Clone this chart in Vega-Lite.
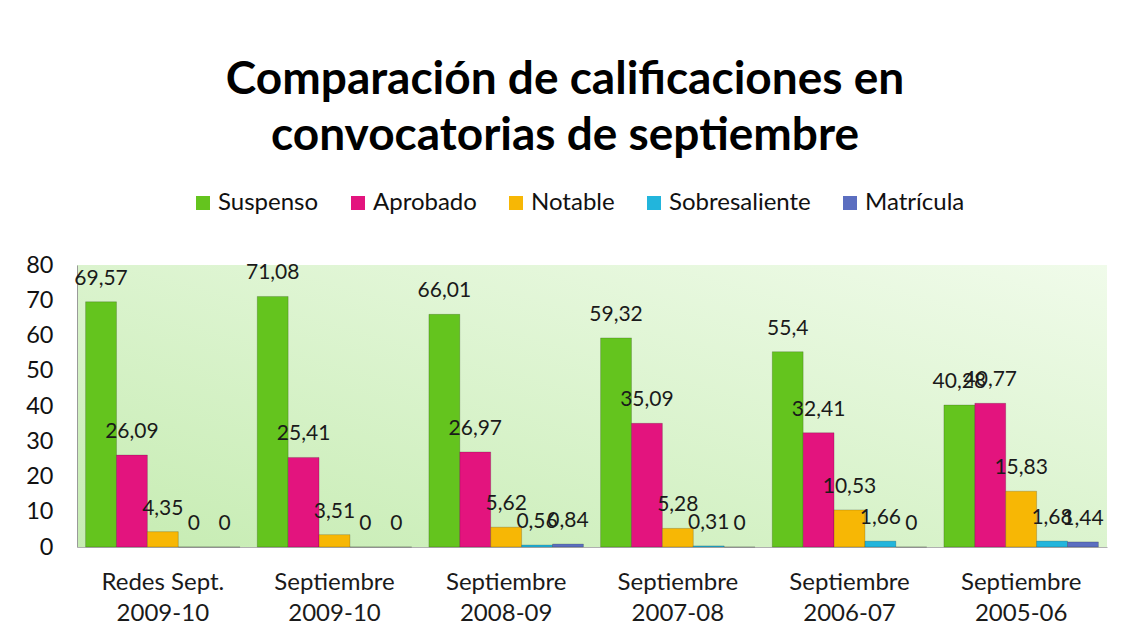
{
  "$schema": "https://vega.github.io/schema/vega-lite/v6.json",
  "width": 1030,
  "height": 282,
  "autosize": {"type": "none"},
  "padding": {"left": 77, "top": 265, "right": 25, "bottom": 92},
  "background": "white",
  "title": {
    "text": ["Comparación de calificaciones en", "convocatorias de septiembre"],
    "font": "Lato",
    "fontSize": 46,
    "fontWeight": "bold",
    "color": "#000000",
    "anchor": "middle",
    "dx": -27,
    "lineHeight": 56,
    "offset": 31
  },
  "config": {
    "font": "Lato",
    "locale": {"number": {"decimal": ",", "thousands": ".", "grouping": [3], "currency": ["", " €"]}},
    "view": {
      "stroke": null,
      "fill": {"gradient": "linear", "x1": 0, "y1": 1, "x2": 1, "y2": 0,
        "stops": [{"offset": 0, "color": "#c6ecb2"}, {"offset": 1, "color": "#f0fbea"}]}
    }
  },
  "data": {
    "values": [
      {"convocatoria": "Redes Sept. 2009-10", "calificacion": "Suspenso", "porcentaje": 69.57},
      {"convocatoria": "Redes Sept. 2009-10", "calificacion": "Aprobado", "porcentaje": 26.09},
      {"convocatoria": "Redes Sept. 2009-10", "calificacion": "Notable", "porcentaje": 4.35},
      {"convocatoria": "Redes Sept. 2009-10", "calificacion": "Sobresaliente", "porcentaje": 0},
      {"convocatoria": "Redes Sept. 2009-10", "calificacion": "Matrícula", "porcentaje": 0},
      {"convocatoria": "Septiembre 2009-10", "calificacion": "Suspenso", "porcentaje": 71.08},
      {"convocatoria": "Septiembre 2009-10", "calificacion": "Aprobado", "porcentaje": 25.41},
      {"convocatoria": "Septiembre 2009-10", "calificacion": "Notable", "porcentaje": 3.51},
      {"convocatoria": "Septiembre 2009-10", "calificacion": "Sobresaliente", "porcentaje": 0},
      {"convocatoria": "Septiembre 2009-10", "calificacion": "Matrícula", "porcentaje": 0},
      {"convocatoria": "Septiembre 2008-09", "calificacion": "Suspenso", "porcentaje": 66.01},
      {"convocatoria": "Septiembre 2008-09", "calificacion": "Aprobado", "porcentaje": 26.97},
      {"convocatoria": "Septiembre 2008-09", "calificacion": "Notable", "porcentaje": 5.62},
      {"convocatoria": "Septiembre 2008-09", "calificacion": "Sobresaliente", "porcentaje": 0.56},
      {"convocatoria": "Septiembre 2008-09", "calificacion": "Matrícula", "porcentaje": 0.84},
      {"convocatoria": "Septiembre 2007-08", "calificacion": "Suspenso", "porcentaje": 59.32},
      {"convocatoria": "Septiembre 2007-08", "calificacion": "Aprobado", "porcentaje": 35.09},
      {"convocatoria": "Septiembre 2007-08", "calificacion": "Notable", "porcentaje": 5.28},
      {"convocatoria": "Septiembre 2007-08", "calificacion": "Sobresaliente", "porcentaje": 0.31},
      {"convocatoria": "Septiembre 2007-08", "calificacion": "Matrícula", "porcentaje": 0},
      {"convocatoria": "Septiembre 2006-07", "calificacion": "Suspenso", "porcentaje": 55.4},
      {"convocatoria": "Septiembre 2006-07", "calificacion": "Aprobado", "porcentaje": 32.41},
      {"convocatoria": "Septiembre 2006-07", "calificacion": "Notable", "porcentaje": 10.53},
      {"convocatoria": "Septiembre 2006-07", "calificacion": "Sobresaliente", "porcentaje": 1.66},
      {"convocatoria": "Septiembre 2006-07", "calificacion": "Matrícula", "porcentaje": 0},
      {"convocatoria": "Septiembre 2005-06", "calificacion": "Suspenso", "porcentaje": 40.28},
      {"convocatoria": "Septiembre 2005-06", "calificacion": "Aprobado", "porcentaje": 40.77},
      {"convocatoria": "Septiembre 2005-06", "calificacion": "Notable", "porcentaje": 15.83},
      {"convocatoria": "Septiembre 2005-06", "calificacion": "Sobresaliente", "porcentaje": 1.68},
      {"convocatoria": "Septiembre 2005-06", "calificacion": "Matrícula", "porcentaje": 1.44}
    ]
  },
  "encoding": {
    "x": {
      "field": "convocatoria",
      "type": "nominal",
      "sort": ["Redes Sept. 2009-10", "Septiembre 2009-10", "Septiembre 2008-09", "Septiembre 2007-08", "Septiembre 2006-07", "Septiembre 2005-06"],
      "scale": {"paddingInner": 0.1, "paddingOuter": 0.05},
      "axis": {
        "title": null,
        "labelAngle": 0,
        "labelFontSize": 24,
        "labelColor": "#1a1a1a",
        "labelLineHeight": 31,
        "labelPadding": 23,
        "labelBaseline": "top",
        "ticks": false,
        "domain": true,
        "domainColor": "#b0b0b0",
        "labelExpr": "[slice(datum.label, 0, lastindexof(datum.label, ' ')), slice(datum.label, lastindexof(datum.label, ' ') + 1)]"
      }
    },
    "xOffset": {
      "field": "calificacion",
      "type": "nominal",
      "sort": ["Suspenso", "Aprobado", "Notable", "Sobresaliente", "Matrícula"]
    },
    "y": {
      "field": "porcentaje",
      "type": "quantitative",
      "scale": {"domain": [0, 80], "nice": false},
      "axis": {
        "title": null,
        "values": [0, 10, 20, 30, 40, 50, 60, 70, 80],
        "format": "d",
        "grid": false,
        "ticks": false,
        "domain": true,
        "domainColor": "#9a9a9a",
        "labelFontSize": 23.5,
        "labelColor": "#111111",
        "labelPadding": 24
      }
    }
  },
  "layer": [
    {
      "mark": {"type": "bar", "stroke": "#000000", "strokeOpacity": 0.18, "strokeWidth": 1},
      "encoding": {
        "color": {
          "field": "calificacion",
          "type": "nominal",
          "sort": ["Suspenso", "Aprobado", "Notable", "Sobresaliente", "Matrícula"],
          "scale": {
            "domain": ["Suspenso", "Aprobado", "Notable", "Sobresaliente", "Matrícula"],
            "range": ["#64c41e", "#e3147e", "#f7b705", "#22b5dc", "#5b6ec0"]
          },
          "legend": {
            "title": null,
            "orient": "none",
            "legendX": 114,
            "legendY": -74,
            "direction": "horizontal",
            "symbolType": "square",
            "symbolSize": 196,
            "symbolStrokeWidth": 0,
            "labelFontSize": 24,
            "labelColor": "#111111",
            "labelOffset": 3,
            "columnPadding": 27
          }
        }
      }
    },
    {
      "mark": {"type": "text", "baseline": "alphabetic", "dy": -17, "fontSize": 21, "color": "#1a1a1a"},
      "encoding": {
        "text": {"field": "porcentaje", "type": "quantitative", "format": ".4~r"}
      }
    }
  ]
}
